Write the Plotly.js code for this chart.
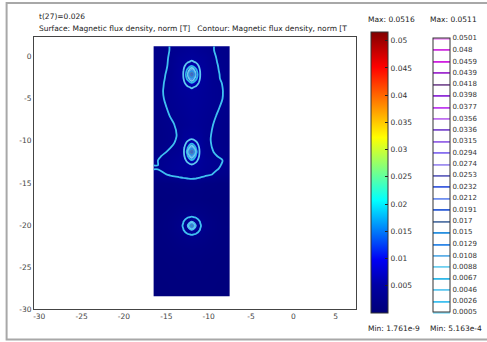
<!DOCTYPE html>
<html>
<head>
<meta charset="utf-8">
<script src="https://cdn.plot.ly/plotly-3.0.1.min.js"></script>
<style>html,body{margin:0;padding:0;background:#fff;}#chart{width:487px;height:342px;}</style>
</head>
<body>
<div id="chart"></div>
<script>
const xs = [-16, -15, -14.5, -13.5, -13, -12.5, -12, -11.5, -11, -10.5, -9.5, -9, -8];
const ys = [0.8, -0.1, -0.6, -1.1, -1.6, -2.1, -2.6, -3.1, -3.6, -4.1, -5, -6, -7, -8,
            -9.3, -9.8, -10.3, -10.8, -11.3, -11.8, -12.3, -12.8, -13.3, -14, -15, -16, -17,
            -18.1, -18.6, -19.1, -19.6, -20.1, -20.6, -21.1, -21.6, -22.1,
            -23, -24, -25, -26, -27, -28];
// magnetic flux density norm [T] at (ys[i], xs[j])
const fluxNorm = [
 [0.00202,0.00242,0.00262,0.00302,0.00322,0.00342,0.00362,0.00342,0.00322,0.00302,0.00262,0.00242,0.00202],
 [0.00208,0.00248,0.00268,0.0035,0.0037,0.0039,0.0040,0.0039,0.0037,0.0035,0.00272,0.00252,0.00212],
 [0.0021,0.0025,0.0027,0.0036,0.0039,0.0044,0.0049,0.0044,0.0039,0.0036,0.00276,0.00256,0.00216],
 [0.00212,0.00252,0.00272,0.0037,0.0041,0.0056,0.0068,0.0056,0.0041,0.0037,0.0028,0.00261,0.0022],
 [0.00216,0.00256,0.00276,0.0038,0.00445,0.0072,0.0115,0.0072,0.00445,0.0038,0.00284,0.00264,0.00224],
 [0.0022,0.00261,0.0028,0.0038,0.00465,0.0080,0.020,0.0080,0.00465,0.0038,0.00288,0.00268,0.00228],
 [0.00224,0.00264,0.00284,0.0038,0.00445,0.0072,0.0115,0.0072,0.00445,0.0038,0.00294,0.0027,0.0023],
 [0.00228,0.00268,0.00288,0.0037,0.0041,0.0056,0.0068,0.0056,0.0041,0.0037,0.00298,0.00278,0.00238],
 [0.0023,0.0027,0.0029,0.0036,0.0039,0.0044,0.0049,0.0044,0.0039,0.0036,0.00302,0.00282,0.00242],
 [0.00232,0.00272,0.00292,0.0035,0.0037,0.0039,0.0040,0.0039,0.0037,0.0035,0.00304,0.00284,0.00244],
 [0.00228,0.00268,0.00288,0.00328,0.00348,0.00368,0.0038,0.0038,0.00362,0.00342,0.00302,0.00282,0.00242],
 [0.00216,0.00256,0.00276,0.00316,0.00336,0.00356,0.00376,0.00368,0.00348,0.00328,0.00288,0.00268,0.00228],
 [0.0020,0.0024,0.00262,0.0030,0.0032,0.0034,0.0036,0.00352,0.00332,0.00312,0.00272,0.00252,0.00212],
 [0.0018,0.0022,0.0024,0.0028,0.0030,0.0032,0.0034,0.00338,0.00318,0.00298,0.00258,0.00238,0.00198],
 [0.00168,0.00208,0.00228,0.00268,0.0036,0.0038,0.0039,0.0038,0.0036,0.00288,0.00248,0.00228,0.00188],
 [0.00172,0.00212,0.00232,0.00272,0.0037,0.0042,0.00465,0.0042,0.0037,0.00286,0.00246,0.00226,0.00186],
 [0.0018,0.0022,0.0024,0.0028,0.0039,0.0051,0.0065,0.0051,0.0039,0.00288,0.00248,0.00228,0.00188],
 [0.00196,0.00236,0.00256,0.00296,0.00403,0.0064,0.011,0.0064,0.00403,0.00292,0.00252,0.00232,0.00192],
 [0.00216,0.00256,0.00276,0.00316,0.0041,0.0073,0.020,0.0073,0.0041,0.0030,0.00259,0.0024,0.0020],
 [0.0024,0.0028,0.0030,0.0034,0.00403,0.0064,0.011,0.0064,0.00403,0.00316,0.00276,0.00256,0.00216],
 [0.00256,0.00296,0.00316,0.00356,0.0039,0.0051,0.0065,0.0051,0.0039,0.00342,0.00302,0.00282,0.00242],
 [0.00255,0.00304,0.00324,0.00364,0.0037,0.0042,0.00465,0.0042,0.0037,0.00336,0.00296,0.00276,0.00236],
 [0.00262,0.00312,0.00332,0.00372,0.0038,0.0038,0.0039,0.0038,0.0036,0.00324,0.00284,0.00264,0.00224],
 [0.00216,0.00256,0.00276,0.00311,0.00333,0.00345,0.00352,0.00345,0.00318,0.00293,0.00252,0.00232,0.00192],
 [0.0011,0.0012,0.0012,0.0014,0.0015,0.0016,0.00168,0.0016,0.0015,0.0013,0.0012,0.0011,0.0010],
 [0.0009,0.0010,0.0010,0.0011,0.0012,0.0012,0.0013,0.0012,0.0012,0.0011,0.0010,0.0010,0.0009],
 [0.0008,0.0009,0.0009,0.0010,0.0011,0.0011,0.0012,0.0011,0.0011,0.0010,0.0009,0.0009,0.0008],
 [0.0009,0.0010,0.0011,0.0014,0.0015,0.0016,0.0016,0.0016,0.0015,0.0014,0.0011,0.0010,0.0009],
 [0.0009,0.0011,0.0012,0.00155,0.0017,0.0019,0.0020,0.0019,0.0017,0.00155,0.0012,0.0011,0.0009],
 [0.0009,0.0011,0.0013,0.0017,0.0021,0.0025,0.0027,0.0025,0.0021,0.0017,0.0013,0.0011,0.0009],
 [0.0009,0.0012,0.0014,0.0019,0.0025,0.0033,0.0040,0.0033,0.0025,0.0019,0.0014,0.0012,0.0009],
 [0.0010,0.0012,0.0014,0.0020,0.0027,0.0040,0.018,0.0040,0.0027,0.0020,0.0014,0.0012,0.0010],
 [0.0009,0.0012,0.0014,0.0019,0.0025,0.0033,0.0040,0.0033,0.0025,0.0019,0.0014,0.0012,0.0009],
 [0.0009,0.0011,0.0013,0.0017,0.0021,0.0025,0.0027,0.0025,0.0021,0.0017,0.0013,0.0011,0.0009],
 [0.0009,0.0011,0.0012,0.00155,0.0017,0.0019,0.0020,0.0019,0.0017,0.00155,0.0012,0.0011,0.0009],
 [0.0009,0.0010,0.0011,0.0014,0.0015,0.0016,0.0016,0.0016,0.0015,0.0014,0.0011,0.0010,0.0009],
 [0.0008,0.0009,0.0010,0.0011,0.0012,0.0012,0.0013,0.0012,0.0012,0.0011,0.0010,0.0009,0.0008],
 [0.0007,0.0008,0.0008,0.0009,0.0010,0.0010,0.0010,0.0010,0.0010,0.0009,0.0008,0.0008,0.0007],
 [0.0007,0.0007,0.0008,0.0008,0.0009,0.0009,0.0009,0.0009,0.0009,0.0008,0.0008,0.0007,0.0007],
 [0.0006,0.0007,0.0007,0.0008,0.0008,0.0008,0.0008,0.0008,0.0008,0.0008,0.0007,0.0007,0.0006],
 [0.0006,0.0006,0.0007,0.0007,0.0007,0.0007,0.0007,0.0007,0.0007,0.0007,0.0007,0.0006,0.0006],
 [0.0006,0.0006,0.0006,0.0006,0.0006,0.0006,0.0006,0.0006,0.0006,0.0006,0.0006,0.0006,0.0006]
];
// domain edges (the conductor block)
const blockX = [-16.5, -7.5];
const blockY = [1.25, -28.5];
// surface colour bar
const surfMin = 1.761e-9, surfMax = 0.0516;
const surfTicks = [0.005, 0.01, 0.015, 0.02, 0.025, 0.03, 0.035, 0.04, 0.045, 0.05];
const surfTickText = ['0.005','0.01','0.015','0.02','0.025','0.03','0.035','0.04','0.045','0.05'];
// contour levels and labels
const levelLabels = ['0.0005','0.0026','0.0046','0.0067','0.0088','0.0108','0.0129','0.015','0.017','0.0191',
  '0.0212','0.0232','0.0253','0.0274','0.0294','0.0315','0.0336','0.0356','0.0377','0.0398',
  '0.0418','0.0439','0.0459','0.048','0.0501'];
const levelValues = levelLabels.map(Number);
const levelColors = ['#90e0f8','#40c0f0','#60c8f0','#30b8e8','#70d0f0','#60b0e8','#3088e8','#2890e0','#5878a8','#3060d8',
  '#7090f0','#4060e0','#6868c0','#a090f0','#8870f0','#9868e8','#8050d0','#c070f0','#c040f0','#9030d8',
  '#805898','#a030d0','#d020e0','#d030e0','#f090f8'];
const contourMin = 5.163e-4, contourMax = 0.0511;
const xTicks = [-30, -25, -20, -15, -10, -5, 0, 5];
const xTickText = ['-30','-25','-20','-15','-10','-5','0','5'];
const yTicks = [-30, -25, -20, -15, -10, -5, 0];
const yTickText = ['-30','-25','-20','-15','-10','-5','0'];
const timeLabel = 't(27)=0.026';
const plotLabel = 'Surface: Magnetic flux density, norm [T]\u00a0\u00a0 Contour: Magnetic flux density, norm [T';

const FONT = 'DejaVu Sans, Verdana, sans-serif';
const jet = [[0,'rgb(0,0,120)'],[0.1,'rgb(0,0,165)'],[0.19,'rgb(0,0,245)'],[0.4,'rgb(0,255,255)'],
             [0.625,'rgb(255,255,0)'],[0.875,'rgb(255,0,0)'],[1,'rgb(128,0,0)']];
const nLev = levelValues.length - 1;
const contourScale = levelColors.map((c, k) => [k / nLev, c]);

// contour grid padded out to the block edges (same values repeated at the border)
const cx = [blockX[0]].concat(xs, [blockX[1]]);
const cy = [blockY[0]].concat(ys, [blockY[1]]);
const padRow = r => [r[0]].concat(r, [r[r.length - 1]]);
const cz = [padRow(fluxNorm[0])].concat(fluxNorm.map(padRow), [padRow(fluxNorm[fluxNorm.length - 1])]);

const surface = {
  type: 'heatmap', x: xs, y: ys, z: fluxNorm, zsmooth: 'best',
  zmin: surfMin, zmax: surfMax, colorscale: jet, hoverinfo: 'skip',
  colorbar: {
    x: 1.0433, xanchor: 'left', y: 0.502, yanchor: 'middle',
    len: 281, lenmode: 'pixels', thickness: 17, thicknessmode: 'pixels',
    xpad: 0, ypad: 0, outlinewidth: 1, outlinecolor: '#333',
    tickmode: 'array', tickvals: surfTicks, ticktext: surfTickText,
    ticks: 'inside', ticklen: 3, tickcolor: '#222',
    tickfont: {family: FONT, size: 7.5, color: '#333'}
  }
};
const contour = {
  type: 'contour', x: cx, y: cy, z: cz, autocontour: false,
  contours: {start: levelValues[0], end: levelValues[nLev], size: (levelValues[nLev] - levelValues[0]) / nLev, coloring: 'lines'},
  line: {width: 1.8, smoothing: 1}, colorscale: contourScale, hoverinfo: 'skip',
  colorbar: {
    x: 1.2353, xanchor: 'left', y: 0.4926, yanchor: 'middle',
    len: 274, lenmode: 'pixels', thickness: 17, thicknessmode: 'pixels',
    xpad: 0, ypad: 0, outlinewidth: 1, outlinecolor: '#333',
    tickmode: 'array', tickvals: levelValues, ticktext: levelLabels, ticks: '',
    tickfont: {family: FONT, size: 7, color: '#333'}
  }
};

const ann = (text, x, y, xanchor, size) => ({text, x, y, xref: 'paper', yref: 'paper', xanchor, yanchor: 'middle',
  showarrow: false, font: {family: FONT, size: size || 7.5, color: '#222'}});

const layout = {
  width: 487, height: 342,
  margin: {l: 34, r: 130, t: 37, b: 33, pad: 0},
  paper_bgcolor: '#fff', plot_bgcolor: '#fff',
  showlegend: false,
  font: {family: FONT, size: 7.5, color: '#333'},
  xaxis: {range: [-30.62, 7.39], tickmode: 'array', tickvals: xTicks, ticktext: xTickText,
          showgrid: false, zeroline: false, showline: true, mirror: true, linecolor: '#444', linewidth: 1,
          ticks: '', tickfont: {family: FONT, size: 7.5, color: '#444'}},
  yaxis: {range: [-30, 2.35], tickmode: 'array', tickvals: yTicks, ticktext: yTickText,
          showgrid: false, zeroline: false, showline: true, mirror: true, linecolor: '#444', linewidth: 1,
          ticks: '', tickfont: {family: FONT, size: 7.5, color: '#444'}},
  annotations: [
    ann(timeLabel, 0.0093, 1.077, 'left'),
    ann(plotLabel, 0.0093, 1.033, 'left'),
    ann('Max: ' + surfMax, 1.111, 1.066, 'center'),
    ann('Max: ' + contourMax, 1.303, 1.066, 'center'),
    ann('Min: 1.761e-9', 1.118, -0.0735, 'center'),
    ann('Min: 5.163e-4', 1.31, -0.0735, 'center')
  ],
  shapes: [
    {type: 'rect', xref: 'paper', yref: 'paper', x0: -0.0851, x1: 1.6, y0: -0.112, y1: 1.125,
     line: {color: '#a8a8a8', width: 2}, fillcolor: 'rgba(0,0,0,0)', layer: 'below'}
  ]
};

Plotly.newPlot('chart', [surface, contour], layout, {staticPlot: true, displayModeBar: false});
</script>
</body>
</html>
